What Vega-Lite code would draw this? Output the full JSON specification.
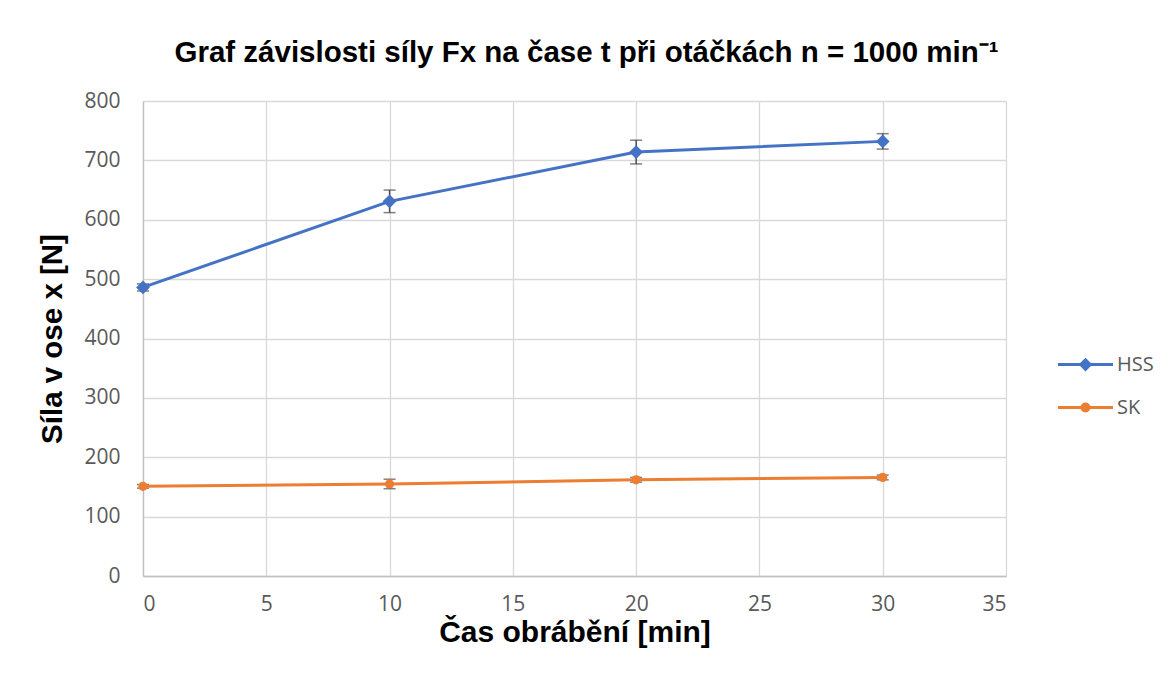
{
  "$schema": "https://vega.github.io/schema/vega-lite/v6.json",
  "width": 863,
  "height": 475,
  "autosize": {"type": "none"},
  "padding": {"left": 143, "top": 101, "right": 161, "bottom": 110},
  "background": "white",
  "title": {
    "text": "Graf závislosti síly Fx na čase t při otáčkách n = 1000 min⁻¹",
    "font": "Liberation Sans",
    "fontSize": 29.5,
    "fontWeight": "bold",
    "color": "black",
    "anchor": "middle",
    "offset": 22,
    "dx": 12
  },
  "data": {
    "values": [
      {"series": "HSS", "t": 0, "F": 486, "lo": 480, "hi": 492},
      {"series": "HSS", "t": 10, "F": 631, "lo": 612, "hi": 650},
      {"series": "HSS", "t": 20, "F": 714, "lo": 694, "hi": 734},
      {"series": "HSS", "t": 30, "F": 732, "lo": 719, "hi": 745},
      {"series": "SK", "t": 0, "F": 151, "lo": 148, "hi": 154},
      {"series": "SK", "t": 10, "F": 155, "lo": 147, "hi": 163},
      {"series": "SK", "t": 20, "F": 162, "lo": 158, "hi": 166},
      {"series": "SK", "t": 30, "F": 166, "lo": 162, "hi": 170}
    ]
  },
  "config": {
    "view": {"stroke": null},
    "axis": {
      "labelFont": "Open Sans",
      "labelFontSize": 21,
      "labelColor": "#595959",
      "titleFont": "Liberation Sans",
      "titleFontWeight": "bold",
      "titleColor": "black",
      "gridColor": "#d9d9d9",
      "gridWidth": 1.3,
      "domainColor": "#bfbfbf",
      "domainWidth": 1.3,
      "ticks": false
    }
  },
  "encoding": {
    "x": {
      "field": "t",
      "type": "quantitative",
      "scale": {"domain": [0, 35], "nice": false},
      "axis": {
        "title": "Čas obrábění [min]",
        "titleFontSize": 30,
        "titlePadding": 3,
        "values": [0, 5, 10, 15, 20, 25, 30, 35],
        "labelPadding": 17
      }
    }
  },
  "layer": [
    {
      "mark": {"type": "errorbar", "ticks": {"size": 12, "thickness": 1.5}, "thickness": 1.5, "color": "#4d4d4d"},
      "encoding": {
        "y": {"field": "lo", "type": "quantitative", "title": "Síla v ose x [N]"},
        "y2": {"field": "hi"},
        "color": {"value": "#4d4d4d"}
      }
    },
    {
      "mark": {"type": "line", "strokeWidth": 3},
      "encoding": {
        "y": {
          "field": "F",
          "type": "quantitative",
          "scale": {"domain": [0, 800], "nice": false},
          "axis": {
            "title": "Síla v ose x [N]",
            "titleFontSize": 29.5,
            "titlePadding": 16,
            "values": [0, 100, 200, 300, 400, 500, 600, 700, 800],
            "labelPadding": 23
          }
        },
        "color": {
          "field": "series",
          "type": "nominal",
          "scale": {"domain": ["HSS", "SK"], "range": ["#4472C4", "#ED7D31"]},
          "legend": {
            "title": null,
            "orient": "none",
            "legendX": 915,
            "legendY": 236,
            "padding": 0,
            "labelFont": "Open Sans",
            "labelFontSize": 20,
            "labelColor": "#595959",
            "labelOffset": 4,
            "rowPadding": 5,
            "symbolSize": 3025,
            "symbolType": "M-1,-0.058H1V0.058H-1Z M-0.18,0A0.18,0.18 0 1 1 0.18,0A0.18,0.18 0 1 1 -0.18,0Z",
            "symbolStrokeWidth": 0,
            "encode": {
              "symbols": {
                "update": {
                  "shape": {"signal": "datum.value === 'HSS' ? 'M-1,-0.058H1V0.058H-1Z M0,-0.25L0.25,0L0,0.25L-0.25,0Z' : 'M-1,-0.058H1V0.058H-1Z M-0.18,0A0.18,0.18 0 1 1 0.18,0A0.18,0.18 0 1 1 -0.18,0Z'"},
                  "fill": {"signal": "datum.value === 'HSS' ? '#4472C4' : '#ED7D31'"},
                  "stroke": {"value": "transparent"},
                  "strokeWidth": {"value": 0},
                  "opacity": {"value": 1}
                }
              }
            }
          }
        }
      }
    },
    {
      "transform": [{"filter": "datum.series === 'HSS'"}],
      "mark": {"type": "point", "filled": true, "opacity": 1, "shape": "diamond", "size": 190, "color": "#4472C4"},
      "encoding": {
        "y": {"field": "F", "type": "quantitative"}
      }
    },
    {
      "transform": [{"filter": "datum.series === 'SK'"}],
      "mark": {"type": "point", "filled": true, "opacity": 1, "shape": "circle", "size": 85, "color": "#ED7D31"},
      "encoding": {
        "y": {"field": "F", "type": "quantitative"}
      }
    }
  ]
}
